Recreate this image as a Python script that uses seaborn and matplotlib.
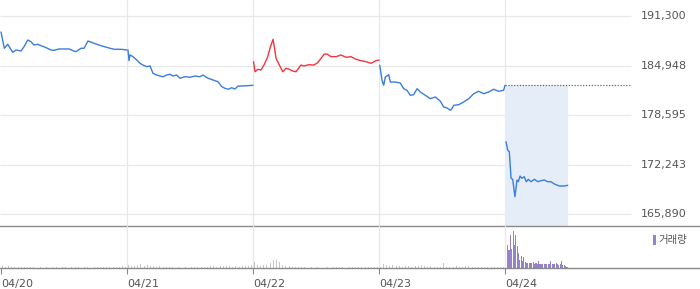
import numpy as np
import pandas as pd
import matplotlib
matplotlib.use("Agg")
import matplotlib.pyplot as plt
import seaborn as sns
from matplotlib.patches import Rectangle

# ---------------- data ----------------
day_labels = ["04/20", "04/21", "04/22", "04/23", "04/24"]
y_ticks = [165890, 172243, 178595, 184948, 191300]
prev_close = 182410

# fraction of session elapsed, price
d1_t = [0, .026, .053, .093, .119, .159, .183, .212, .238, .262, .291, .317, .341, .397, .421,
        .460, .500, .540, .571, .595, .635, .659, .690, .738, .794, .849, .897, .952, 1.0]
d1_p = [189250, 187160, 187670, 186640, 186940, 186810, 187360, 188220, 188000, 187580, 187670,
        187490, 187360, 186940, 186900, 187070, 187070, 187070, 186850, 186720, 187160, 187160,
        188090, 187800, 187490, 187230, 187030, 187030, 186940]

d2_t = [.008, .016, .024, .048, .077, .103, .127, .156, .183, .206, .236, .262, .286, .315, .341,
        .365, .394, .421, .460, .500, .540, .579, .603, .643, .683, .722, .752, .778, .802, .831,
        .857, .881, .921, .960, 1.0]
d2_p = [186940, 185570, 186300, 186080, 185660, 185230, 185010, 184800, 184890, 183950, 183730,
        183600, 183510, 183730, 183820, 183600, 183730, 183310, 183510, 183440, 183600, 183510,
        183730, 183310, 183090, 182870, 182230, 182020, 181900, 182100, 181930, 182320, 182320,
        182360, 182410]

d3_t = [.004, .016, .037, .063, .087, .117, .135, .148, .159, .169, .183, .209, .236, .262, .288,
        .315, .341, .381, .405, .444, .484, .513, .540, .563, .587, .619, .659, .698, .738, .778,
        .817, .857, .897, .937, .976, 1.0]
d3_p = [185440, 184150, 184460, 184370, 185010, 186080, 187160, 187800, 188310, 187360, 185870,
        185010, 184150, 184590, 184460, 184240, 184150, 185010, 184890, 185050, 185010, 185310,
        185870, 186390, 186430, 186080, 186080, 186300, 186000, 186080, 185750, 185570, 185440,
        185230, 185570, 185650]

d4_t = [.006, .024, .037, .050, .077, .090, .129, .169, .196, .222, .248, .275, .302, .328, .367,
        .407, .447, .487, .513, .540, .566, .579, .593, .633, .672, .712, .752, .791, .831, .870,
        .910, .950, .989, 1.0]
d4_p = [184980, 183050, 182410, 183470, 183770, 182830, 182830, 182700, 181970, 181770, 181130,
        181200, 181970, 181550, 181130, 180690, 180910, 180360, 179630, 179500, 179200, 179410,
        179840, 179920, 180270, 180690, 181330, 181640, 181330, 181550, 181900, 181640, 181770,
        182410]

d5_t = [.008, .021, .034, .048, .061, .079, .095, .106, .119, .133, .153, .169, .185, .206, .233,
        .260, .286, .312, .339, .365, .391, .431, .471, .498]
d5_p = [175170, 174110, 173890, 170480, 170350, 168120, 170260, 170040, 170770, 170480, 170680,
        170040, 170350, 170040, 170350, 170040, 170170, 170260, 170040, 170040, 169750, 169490,
        169490, 169580]

# volume (thousand shares)
v1 = [2, 1.5, 2, 1, 1.5, 1, 1.5, 1, 1, 1.5, 1, .5, 1, .5, 1, .5, 1, 1, .5, 1,
      1, .5, 1, 1.5, 1, .5, 1, 1, .5, 1, 1, 1, 1.5, 1, 1, 1, 1.5, 1, 2, 1.5]
v2 = [3, 2, 2, 3, 4, 2, 3, 2.5, 2, 1.5, 2, 1.5, 1, 1, 1, .5, 1, .5, 1, .5,
      1, 1, 1, 1.5, 1, 1.5, 2, 2, 1.5, 2, 2.5, 2, 2, 1.5, 2, 1.5, 2, 2, 2.5, 3]
v3 = [6, 3, 2, 3, 3, 5, 8, 8, 6, 3, 2, 2, 1.5, 1.5, 1, 1, 1, .5, 1, .5,
      1, .5, .5, 1, .5, 1, 1, 1, 1, .5, 1, 1, 1, 1, 1, 1.5, 1, 1, 1, 1.5]
v4 = [1, 4, 3, 2, 3, 2, 2, 1.5, 2, 2, 1.5, 2, 2, 3, 2, 1.5, 2, 1.5, 1.5, 1,
      5, 1, 1.5, 1, 2, 1, 1.5, 2, 2, 1.5, 1.5, 1, 1, 1, 1, 1, 1, 1, 1, 1]
v5 = [23.3, 17.7, 33.3, 19, 36.7, 23.3, 33.3, 21.7, 15, 7.7, 11.7, 6.7, 11, 5.7, 5,
      5, 5, 5, 5, 5.7, 4.3, 5, 4.3, 6.7, 4.3, 4, 4, 4, 4.3, 4, 4.3, 4, 6.7, 4, 4.3,
      4, 5, 4, 3.3, 4, 6.7, 3.3, 2.7, 2, 1.5]

# ---------------- styling ----------------
sns.set_theme(style="white")
plt.rcParams['font.family'] = ['DejaVu Sans', 'Noto Sans CJK KR']

BLUE = "#3b7ddd"
RED = "#f2353f"
GRID = "#e8e8e8"
AXIS = "#8a8a8a"
TXT = "#555555"
GREY_BAR = "#c6c6c6"
PURPLE = "#9682c8"
SHADE = "#e5edf9"

W, H = 700, 289
fig = plt.figure(figsize=(7, 2.89), dpi=100)
XL0 = -0.008
XL1 = XL0 + W / 126.0
ax = fig.add_axes([0, (H - 226) / H, 1, 226 / H])
axv = fig.add_axes([0, (H - 268) / H, 1, 42 / H])

ymax = 191300 + 16 * 128.3
ymin = 191300 - 210 * 128.3

frames = []
for i, (t, p, c) in enumerate([(d1_t, d1_p, "b"), (d2_t, d2_p, "b"), (d3_t, d3_p, "r"),
                               (d4_t, d4_p, "b"), (d5_t, d5_p, "b")]):
    frames.append(pd.DataFrame({"t": np.array(t) + i, "price": p, "seg": i, "col": c}))
df = pd.concat(frames, ignore_index=True)

# shaded area and dotted prev close
t_end = 4 + d5_t[-1]
ax.fill_between([4, t_end], [ymin, ymin], [prev_close, prev_close], color=SHADE, lw=0, zorder=1)
ax.hlines(prev_close, 4, 5.0, colors="#666666", linestyles=(0, (1, 1.3)), lw=0.9, zorder=2)

# grid
for v in y_ticks:
    ax.hlines(v, XL0, 5.0, colors=GRID, lw=0.9, zorder=0)
    ax.text(5.079, v, f"{v:,}", ha="left", va="center", fontsize=8, color=TXT)
for d in range(1, 5):
    ax.axvline(d, color=GRID, lw=0.9, zorder=0)
    axv.axvline(d, color=GRID, lw=0.9, zorder=0)

for seg, g in df.groupby("seg"):
    color = RED if g["col"].iloc[0] == "r" else BLUE
    sns.lineplot(data=g, x="t", y="price", ax=ax, color=color, lw=1.0, zorder=3,
                 estimator=None, sort=False)

ax.set_xlim(XL0, XL1)
ax.set_ylim(ymin, ymax)
ax.set_xticks([])
ax.set_yticks([])
ax.set_xlabel("")
ax.set_ylabel("")
for s in ["top", "left", "right"]:
    ax.spines[s].set_visible(False)
ax.spines["bottom"].set_color(AXIS)
ax.spines["bottom"].set_linewidth(1.0)
ax.patch.set_alpha(0)

# volume
for i, v in enumerate([v1, v2, v3, v4]):
    tt = i + np.linspace(0.01, 0.99, len(v))
    axv.bar(tt, v, width=0.008, color=GREY_BAR, lw=0, zorder=2)
tt5 = 4 + np.linspace(0.021, 0.492, len(v5))
axv.bar(tt5, v5, width=0.0085, color=PURPLE, lw=0, zorder=2)
axv.set_xlim(XL0, XL1)
axv.set_ylim(0, 42)
axv.set_yticks([])
axv.set_xticks(range(5))
axv.set_xticklabels(day_labels, ha="left", fontsize=8, color=TXT)
axv.tick_params(axis="x", direction="out", length=4, width=0.8, color=AXIS, pad=4, bottom=True)
for lab in axv.get_xticklabels():
    lab.set_horizontalalignment("left")
for s in ["top", "left", "right"]:
    axv.spines[s].set_visible(False)
axv.spines["bottom"].set_color(AXIS)
axv.spines["bottom"].set_linewidth(1.0)
axv.patch.set_alpha(0)

# legend
axv.add_patch(Rectangle((653 / W, (268 - 245) / 42), 3 / W, 10 / 42,
                        transform=axv.transAxes, color=PURPLE, lw=0, clip_on=False))
axv.text(658 / W, (268 - 240) / 42, "거래량", transform=axv.transAxes, ha="left", va="center",
         fontsize=7.5, color=TXT, family=["Noto Sans CJK KR", "DejaVu Sans"])

fig.savefig("out.png", dpi=100)
